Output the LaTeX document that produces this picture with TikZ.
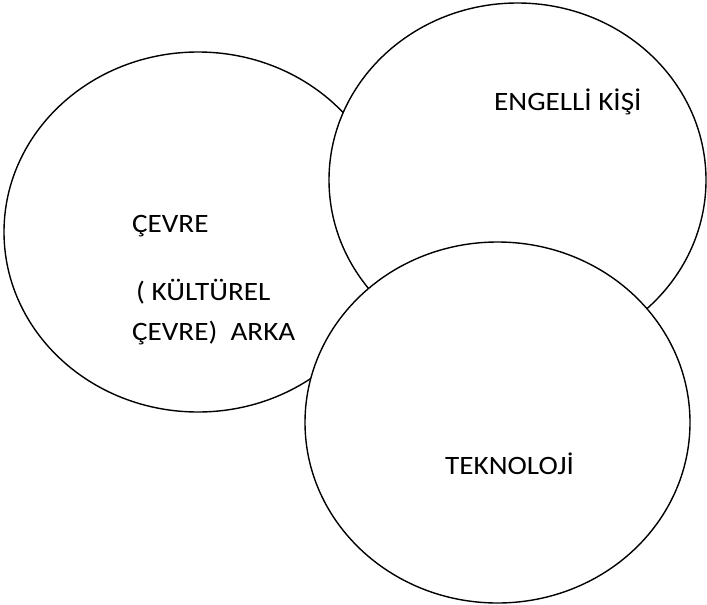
\documentclass[tikz,border=0pt]{standalone}
\usepackage{fontspec}
\setmainfont{Carlito}[FakeStretch=1.1]
\usetikzlibrary{shapes.geometric}
\begin{document}
\begin{tikzpicture}[x=1pt,y=-1pt,
  blob/.style={ellipse,draw=black,fill=white,line width=1.4pt,inner sep=0pt},
  lbl/.style={anchor=base west,inner sep=0pt,font=\fontsize{26.5}{30}\selectfont}]
\useasboundingbox[fill=white] (0,0) rectangle (707,605);
\node[blob,minimum width=388pt,minimum height=360pt] (cevre) at (198,232) {};
\node[blob,minimum width=377pt,minimum height=354pt] (kisi) at (517.5,180) {};
\node[blob,minimum width=385pt,minimum height=361pt] (tek) at (497.5,422.5) {};
\node[lbl] (t1) at (132,232) {ÇEVRE};
\node[lbl] (t2) at (136,300) {( KÜLTÜREL};
\node[lbl] (t3) at (132,340) {ÇEVRE)\ \ ARKA};
\node[lbl] (t4) at (494,110) {ENGELLİ KİŞİ};
\node[lbl] (t5) at (445,474) {TEKNOLOJİ};
\end{tikzpicture}
\end{document}
